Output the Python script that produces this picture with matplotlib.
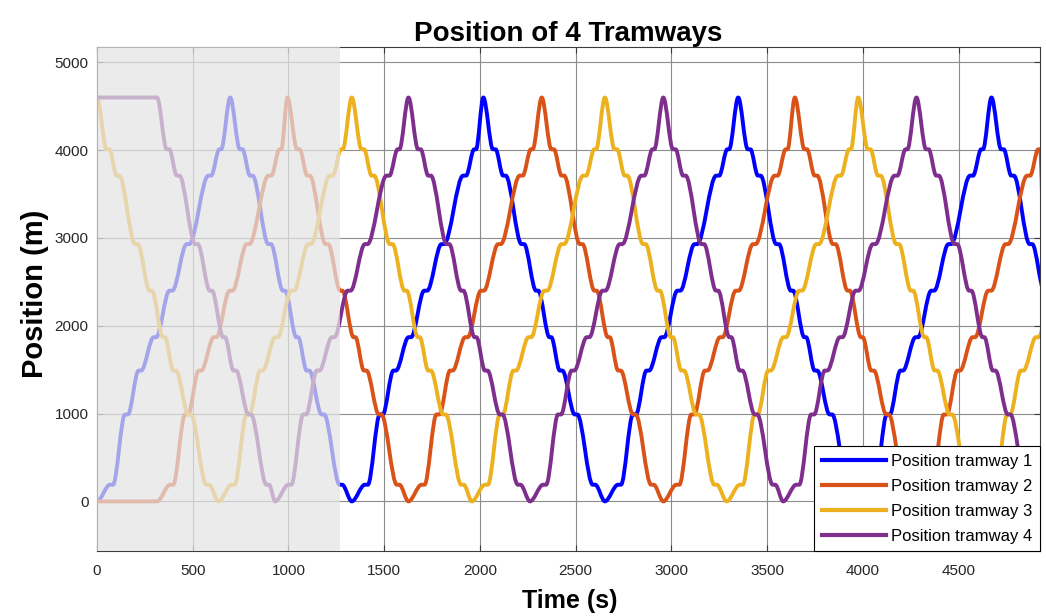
import matplotlib
matplotlib.use("Agg")
import matplotlib.pyplot as plt
from matplotlib.path import Path
from matplotlib.patches import PathPatch
from matplotlib.lines import Line2D

plt.rcParams['font.family'] = ['Liberation Sans', 'DejaVu Sans']

# one trip 0 -> 4600 m (time offset from departure, position)
up_t = [0, 68, 84, 146, 162, 217, 231, 296, 310, 378, 394, 468, 482, 581, 597, 639, 649]
up_p = [0, 190, 190, 990, 990, 1490, 1490, 1870, 1870, 2400, 2400, 2930, 2930, 3710, 3710, 4010, 4010]
# one trip 4600 -> 0 m
down_t = [0, 50, 64, 103, 117, 199, 213, 275, 287, 345, 355, 399, 413, 477, 491, 571, 585]
down_p = [4600, 4010, 4010, 3710, 3710, 2930, 2930, 2400, 2400, 1870, 1870, 1490, 1490, 990, 990, 190, 190]

# times where each tram turns round at a terminus (first = departure)
turns_1 = [0, 696, 1331, 2018, 2653, 3349, 3979, 4672, 5304]
turns_2 = [314, 995, 1627, 2323, 2958, 3645, 4277, 4969]
turns_3 = [0, 635, 1331, 1958, 2653, 3289, 3976, 4608, 5300]
turns_4 = [314, 931, 1627, 2262, 2958, 3584, 4280, 4912, 5604]
start_pos = [0, 0, 4600, 4600]

labels = ["Position tramway 1", "Position tramway 2",
          "Position tramway 3", "Position tramway 4"]
colors = ["#0000ff", "#d95319", "#edb120", "#7e2f8e"]

shade_end = 1270  # greyed out warm-up period


def tram_path(turns, p0):
    # key points of the run
    pts = [(0, p0)]
    up = p0 == 0
    for i in range(len(turns) - 1):
        tt, pp = (up_t, up_p) if up else (down_t, down_p)
        for o, p in zip(tt, pp):
            pts.append((turns[i] + o, p))
        up = not up
    pts.append((turns[-1], 0 if not up else 4600))

    verts = [pts[0]]
    codes = [Path.MOVETO]
    for (ta, pa), (tb, pb) in zip(pts[:-1], pts[1:]):
        if pa == pb:
            verts.append((tb, pb))
            codes.append(Path.LINETO)
        else:
            d = (tb - ta) * 0.33
            verts += [(ta + d, pa), (tb - d, pb), (tb, pb)]
            codes += [Path.CURVE4] * 3
    return Path(verts, codes)


fig = plt.figure(figsize=(10.46, 6.16), dpi=100)
ax = fig.add_axes([0.0927, 0.1055, 0.9015, 0.8182])

for turns, p0, c in zip([turns_1, turns_2, turns_3, turns_4], start_pos, colors):
    ax.add_patch(PathPatch(tram_path(turns, p0), facecolor='none', edgecolor=c,
                           lw=2.8, joinstyle='round', capstyle='round', zorder=2))

ax.axvspan(0, shade_end, color=(0.8925, 0.8925, 0.8925), alpha=0.725, lw=0, zorder=3)

ax.set_xlim(0, 4925)
ax.set_ylim(-565, 5175)
ax.set_xticks(range(0, 5000, 500))
ax.set_yticks(range(0, 5001, 1000))

ax.set_axisbelow(True)
ax.grid(True, color='#8c8c8c', lw=0.8)
ax.tick_params(direction='in', length=4, top=True, right=True, color='#3c3c3c',
               labelcolor='#262626', labelsize=11)
ax.tick_params(axis='x', pad=9)
ax.tick_params(axis='y', pad=6)
for s in ax.spines.values():
    s.set_color('#3c3c3c')
    s.set_linewidth(0.8)

ax.set_title("Position of 4 Tramways", fontsize=20, fontweight='bold', pad=4)
ax.set_xlabel("Time (s)", fontsize=18, fontweight='bold')
ax.set_ylabel("Position (m)", fontsize=21, fontweight='bold')
ax.xaxis.set_label_coords(0.5016, -0.075)
ax.yaxis.set_label_coords(-0.051, 0.51)

handles = [Line2D([], [], color=c, lw=3) for c in colors]
leg = ax.legend(handles, labels, loc='lower right', borderaxespad=0, fontsize=12,
                handlelength=3.85, handletextpad=0.3, labelspacing=0.6,
                borderpad=0.45, fancybox=False, framealpha=1, edgecolor='black')
leg.get_frame().set_linewidth(0.8)

fig.savefig("out.png", dpi=100)
